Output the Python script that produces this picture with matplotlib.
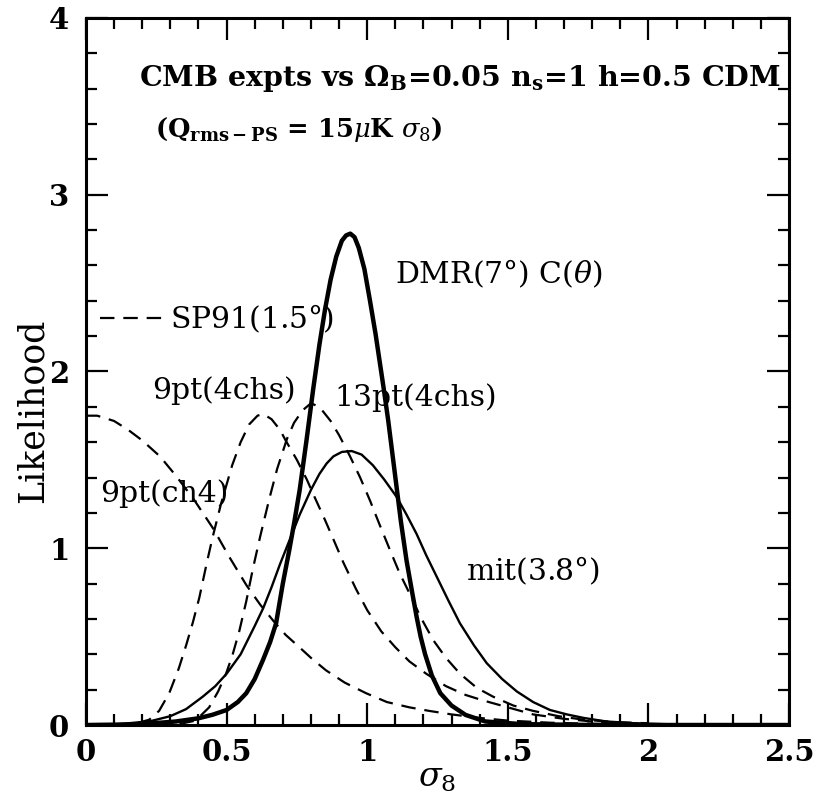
import numpy as np
import matplotlib
matplotlib.use("Agg")
import matplotlib.pyplot as plt
from matplotlib.ticker import MultipleLocator

plt.rcParams['font.family'] = ['DejaVu Serif']
plt.rcParams['mathtext.fontset'] = 'dejavuserif'

# curves (sigma_8, likelihood)
dmr_x = [0.0, 0.15, 0.24, 0.32, 0.40, 0.45, 0.50, 0.54, 0.57, 0.60, 0.63, 0.655, 0.676, 0.70,
         0.723, 0.74, 0.76, 0.785, 0.808, 0.83, 0.85, 0.87, 0.89, 0.91, 0.925, 0.94, 0.955,
         0.97, 0.99, 1.01, 1.03, 1.045, 1.06, 1.075, 1.09, 1.105, 1.12, 1.14, 1.16, 1.176,
         1.19, 1.206, 1.23, 1.26, 1.30, 1.35, 1.42, 1.55, 1.8, 2.5]
dmr_y = [0.0, 0.003, 0.01, 0.02, 0.038, 0.058, 0.085, 0.13, 0.18, 0.26, 0.37, 0.47, 0.575, 0.80,
         0.99, 1.14, 1.33, 1.62, 1.90, 2.15, 2.35, 2.52, 2.65, 2.74, 2.77, 2.78, 2.76,
         2.70, 2.58, 2.40, 2.21, 2.05, 1.89, 1.72, 1.53, 1.34, 1.15, 0.93, 0.75, 0.61,
         0.50, 0.40, 0.28, 0.18, 0.11, 0.057, 0.02, 0.005, 0.0, 0.0]

mit_x = [0.0, 0.1, 0.225, 0.3, 0.356, 0.415, 0.46, 0.50, 0.55, 0.60, 0.63, 0.66, 0.69, 0.72,
         0.76, 0.80, 0.83, 0.856, 0.88, 0.91, 0.945, 0.98, 1.02, 1.06, 1.105, 1.14, 1.176,
         1.21, 1.247, 1.29, 1.33, 1.38, 1.425, 1.48, 1.532, 1.59, 1.65, 1.71, 1.77, 1.85,
         1.95, 2.1, 2.5]
mit_y = [0.0, 0.003, 0.02, 0.05, 0.09, 0.16, 0.22, 0.29, 0.40, 0.56, 0.66, 0.78, 0.91, 1.03,
         1.19, 1.33, 1.42, 1.48, 1.52, 1.545, 1.55, 1.53, 1.47, 1.39, 1.29, 1.19, 1.08,
         0.96, 0.84, 0.70, 0.575, 0.45, 0.35, 0.26, 0.19, 0.13, 0.085, 0.06, 0.04, 0.02,
         0.01, 0.003, 0.0]

pt9_4chs_x = [0.10, 0.18, 0.225, 0.26, 0.296, 0.33, 0.356, 0.38, 0.403, 0.43, 0.45, 0.48, 0.52,
              0.55, 0.58, 0.61, 0.63, 0.66, 0.69, 0.71, 0.75, 0.785, 0.81, 0.85, 0.88, 0.915,
              0.96, 1.0, 1.05, 1.10, 1.15, 1.21, 1.28, 1.35, 1.41, 1.5, 1.59, 1.7, 1.8, 2.0]
pt9_4chs_y = [0.0, 0.01, 0.03, 0.08, 0.18, 0.32, 0.45, 0.58, 0.72, 0.92, 1.06, 1.25, 1.47,
              1.60, 1.70, 1.75, 1.76, 1.73, 1.67, 1.61, 1.50, 1.39, 1.30, 1.16, 1.05, 0.92,
              0.77, 0.65, 0.53, 0.44, 0.36, 0.29, 0.22, 0.17, 0.14, 0.10, 0.06, 0.035, 0.02, 0.005]

pt13_x = [0.25, 0.33, 0.39, 0.438, 0.47, 0.498, 0.52, 0.545, 0.57, 0.593, 0.62, 0.652, 0.68,
          0.715, 0.74, 0.77, 0.80, 0.83, 0.87, 0.90, 0.939, 0.975, 1.01, 1.045, 1.081, 1.115,
          1.152, 1.19, 1.235, 1.28, 1.33, 1.39, 1.448, 1.52, 1.59, 1.68, 1.77, 1.9, 2.0]
pt13_y = [0.0, 0.005, 0.025, 0.10, 0.19, 0.29, 0.39, 0.53, 0.70, 0.88, 1.07, 1.28, 1.45,
          1.62, 1.71, 1.78, 1.82, 1.80, 1.72, 1.64, 1.52, 1.40, 1.27, 1.13, 0.99, 0.86,
          0.74, 0.61, 0.48, 0.38, 0.29, 0.21, 0.16, 0.11, 0.08, 0.05, 0.03, 0.015, 0.01]

pt9_ch4_x = [0.0, 0.04, 0.10, 0.15, 0.20, 0.263, 0.32, 0.382, 0.453, 0.51, 0.571, 0.62, 0.666,
             0.71, 0.759, 0.80, 0.853, 0.92, 0.996, 1.07, 1.15, 1.22, 1.3, 1.4, 1.5, 1.65,
             1.8, 2.0]
pt9_ch4_y = [1.75, 1.75, 1.72, 1.67, 1.61, 1.52, 1.41, 1.28, 1.11, 0.95, 0.79, 0.68, 0.59,
             0.51, 0.44, 0.38, 0.31, 0.24, 0.18, 0.13, 0.10, 0.08, 0.06, 0.04, 0.025, 0.013,
             0.007, 0.002]

sp91_x = [0.05, 0.27]
sp91_y = [2.3, 2.3]

fig = plt.figure(figsize=(8.33, 7.99), dpi=100)
ax = fig.add_axes([0.1032, 0.0926, 0.8440, 0.8849])

dash = (0, (6.5, 4))
ax.plot(dmr_x, dmr_y, color='black', lw=3.2, solid_joinstyle='round')
ax.plot(mit_x, mit_y, color='black', lw=1.7, solid_joinstyle='round')
for xs, ys in [(pt9_4chs_x, pt9_4chs_y), (pt13_x, pt13_y), (pt9_ch4_x, pt9_ch4_y), (sp91_x, sp91_y)]:
    ax.plot(xs, ys, color='black', lw=1.6, linestyle=dash)

ax.set_xlim(0, 2.5)
ax.set_ylim(0, 4)
ax.xaxis.set_major_locator(MultipleLocator(0.5))
ax.xaxis.set_minor_locator(MultipleLocator(0.1))
ax.yaxis.set_major_locator(MultipleLocator(1))
ax.yaxis.set_minor_locator(MultipleLocator(0.2))
ax.set_xticks([0, 0.5, 1, 1.5, 2, 2.5])
ax.set_xticklabels(['0', '0.5', '1', '1.5', '2', '2.5'])
ax.set_yticks([0, 1, 2, 3, 4])
ax.set_yticklabels(['0', '1', '2', '3', '4'])
ax.tick_params(which='both', direction='in', top=True, right=True, width=1.6)
ax.tick_params(which='major', length=16)
ax.tick_params(which='minor', length=8)
ax.tick_params(axis='x', which='major', labelsize=21, pad=9)
ax.tick_params(axis='y', which='major', labelsize=21, pad=12)
for lab in ax.get_xticklabels() + ax.get_yticklabels():
    lab.set_fontweight('bold')
for s in ax.spines.values():
    s.set_linewidth(2.2)

ax.set_xlabel(r'$\sigma_8$', fontsize=24, labelpad=-3)
ax.set_ylabel('Likelihood', fontsize=25)
ax.yaxis.set_label_coords(-0.052, 0.445)

ax.text(0.19, 3.66, r'CMB expts vs $\mathbf{\Omega_B}$=0.05 $\mathbf{n_s}$=1 h=0.5 CDM',
        fontsize=20.5, fontweight='bold', va='center', ha='left')
ax.text(0.245, 3.37, r'($\mathbf{Q_{rms-PS}}$ = 15$\mu$K $\sigma_8$)',
        fontsize=18.5, fontweight='bold', va='center', ha='left')

fs = 21.5
ax.text(1.1, 2.55, r'DMR(7$\degree$) C($\theta$)', fontsize=fs, va='center', ha='left')
ax.text(0.30, 2.30, r'SP91(1.5$\degree$)', fontsize=fs, va='center', ha='left')
ax.text(0.235, 1.89, '9pt(4chs)', fontsize=fs, va='center', ha='left')
ax.text(0.885, 1.85, '13pt(4chs)', fontsize=fs, va='center', ha='left')
ax.text(0.05, 1.31, '9pt(ch4)', fontsize=fs, va='center', ha='left')
ax.text(1.35, 0.87, r'mit(3.8$\degree$)', fontsize=fs, va='center', ha='left')

fig.savefig('out.png', dpi=100)
